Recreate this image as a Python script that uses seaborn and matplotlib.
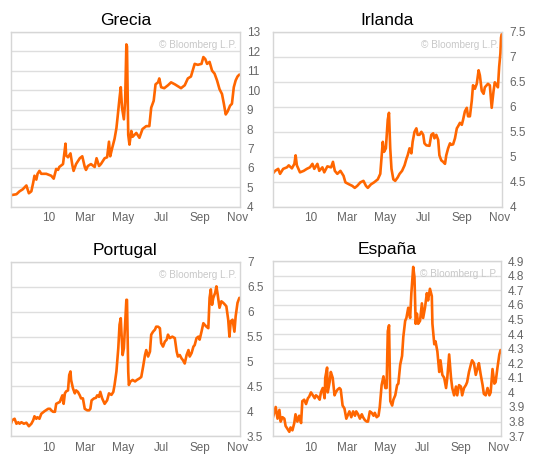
import pandas as pd
import matplotlib.pyplot as plt
import seaborn as sns

# 10-year bond yields, Nov 2009 - Nov 2010
greece_dates = ['2009-11-01', '2009-11-10', '2009-11-15', '2009-11-20', '2009-11-26', '2009-11-30',
                '2009-12-04', '2009-12-07', '2009-12-09', '2009-12-12', '2009-12-14', '2009-12-17',
                '2009-12-20', '2009-12-28', '2010-01-05', '2010-01-09', '2010-01-13', '2010-01-16',
                '2010-01-18', '2010-01-24', '2010-01-28', '2010-01-29', '2010-02-01', '2010-02-05',
                '2010-02-08', '2010-02-10', '2010-02-14', '2010-02-18', '2010-02-20', '2010-02-24',
                '2010-02-28', '2010-03-02', '2010-03-05', '2010-03-10', '2010-03-16', '2010-03-19',
                '2010-03-23', '2010-03-26', '2010-04-01', '2010-04-05', '2010-04-08', '2010-04-10',
                '2010-04-13', '2010-04-17', '2010-04-20', '2010-04-22', '2010-04-25', '2010-04-27',
                '2010-04-29', '2010-05-02', '2010-05-04', '2010-05-06', '2010-05-07', '2010-05-09',
                '2010-05-11', '2010-05-14', '2010-05-16', '2010-05-22', '2010-05-27', '2010-06-01',
                '2010-06-07', '2010-06-12', '2010-06-15', '2010-06-19', '2010-06-22', '2010-06-26',
                '2010-06-28', '2010-07-01', '2010-07-06', '2010-07-12', '2010-07-17', '2010-07-23',
                '2010-07-28', '2010-08-02', '2010-08-08', '2010-08-13', '2010-08-18', '2010-08-24',
                '2010-08-29', '2010-09-04', '2010-09-07', '2010-09-10', '2010-09-13', '2010-09-17',
                '2010-09-21', '2010-09-25', '2010-09-29', '2010-10-03', '2010-10-07', '2010-10-10',
                '2010-10-13', '2010-10-16', '2010-10-20', '2010-10-23', '2010-10-26', '2010-10-29',
                '2010-11-01', '2010-11-04']
greece_yield = [4.6, 4.65, 4.8, 4.9, 5.1, 4.7,
                4.8, 5.25, 5.6, 5.4, 5.7, 5.85,
                5.7, 5.7, 5.6, 5.45, 5.95, 5.9,
                6.05, 6.2, 7.25, 6.65, 6.55, 6.75,
                6.15, 5.85, 6.2, 6.4, 6.5, 6.6,
                6.05, 5.9, 6.1, 6.2, 6.05, 6.5,
                6.1, 6.2, 6.5, 6.55, 7.35, 6.6,
                7.0, 7.5, 8.05, 8.65, 9.6, 10.15,
                9.1, 8.5, 9.4, 12.35, 12.25, 7.7,
                7.2, 7.9, 7.6, 7.8, 7.55, 8.0,
                8.15, 8.15, 9.1, 9.45, 10.3, 10.4,
                10.6, 10.15, 10.1, 10.25, 10.4, 10.3,
                10.2, 10.1, 10.25, 10.6, 10.7, 11.35,
                11.3, 11.35, 11.7, 11.6, 11.35, 11.45,
                11.0, 10.85, 10.5, 10.05, 9.8, 9.3,
                8.75, 8.9, 9.2, 9.3, 10.15, 10.5,
                10.7, 10.8]

ireland_dates = ['2009-11-01', '2009-11-05', '2009-11-10', '2009-11-13', '2009-11-18', '2009-11-24',
                 '2009-11-27', '2009-12-02', '2009-12-06', '2009-12-08', '2009-12-10', '2009-12-15',
                 '2009-12-21', '2009-12-26', '2009-12-31', '2010-01-04', '2010-01-07', '2010-01-12',
                 '2010-01-15', '2010-01-20', '2010-01-23', '2010-01-28', '2010-02-03', '2010-02-06',
                 '2010-02-09', '2010-02-13', '2010-02-18', '2010-02-23', '2010-02-26', '2010-03-04',
                 '2010-03-09', '2010-03-13', '2010-03-17', '2010-03-22', '2010-03-27', '2010-03-31',
                 '2010-04-03', '2010-04-08', '2010-04-13', '2010-04-19', '2010-04-23', '2010-04-27',
                 '2010-04-29', '2010-05-02', '2010-05-05', '2010-05-07', '2010-05-09', '2010-05-11',
                 '2010-05-14', '2010-05-17', '2010-05-21', '2010-05-24', '2010-05-28', '2010-06-01',
                 '2010-06-04', '2010-06-06', '2010-06-09', '2010-06-12', '2010-06-14', '2010-06-17',
                 '2010-06-20', '2010-06-22', '2010-06-25', '2010-06-28', '2010-07-01', '2010-07-03',
                 '2010-07-06', '2010-07-11', '2010-07-14', '2010-07-17', '2010-07-19', '2010-07-22',
                 '2010-07-25', '2010-07-27', '2010-07-30', '2010-08-02', '2010-08-05', '2010-08-07',
                 '2010-08-10', '2010-08-13', '2010-08-15', '2010-08-18', '2010-08-21', '2010-08-24',
                 '2010-08-26', '2010-08-29', '2010-09-01', '2010-09-03', '2010-09-06', '2010-09-09',
                 '2010-09-11', '2010-09-14', '2010-09-17', '2010-09-19', '2010-09-22', '2010-09-25',
                 '2010-09-28', '2010-09-30', '2010-10-03', '2010-10-06', '2010-10-08', '2010-10-13',
                 '2010-10-16', '2010-10-19', '2010-10-22', '2010-10-24', '2010-10-27', '2010-10-29',
                 '2010-10-31', '2010-11-02', '2010-11-03', '2010-11-04']
ireland_yield = [4.66, 4.72, 4.76, 4.66, 4.76, 4.79,
                 4.83, 4.77, 4.86, 5.03, 4.83, 4.69,
                 4.72, 4.76, 4.79, 4.86, 4.76, 4.86,
                 4.72, 4.79, 4.69, 4.81, 4.79, 4.90,
                 4.72, 4.66, 4.72, 4.62, 4.49, 4.45,
                 4.42, 4.38, 4.42, 4.49, 4.52, 4.42,
                 4.38, 4.45, 4.49, 4.55, 4.66, 5.30,
                 5.10, 5.17, 5.74, 5.88, 5.17, 4.76,
                 4.55, 4.52, 4.59, 4.66, 4.72, 4.83,
                 4.96, 5.03, 5.17, 5.07, 5.30, 5.50,
                 5.57, 5.44, 5.44, 5.50, 5.44, 5.27,
                 5.23, 5.22, 5.44, 5.47, 5.37, 5.44,
                 5.34, 5.03, 4.93, 4.90, 4.86, 5.03,
                 5.17, 5.27, 5.24, 5.25, 5.37, 5.57,
                 5.61, 5.68, 5.64, 5.74, 5.91, 5.98,
                 5.81, 5.81, 6.12, 6.43, 6.36, 6.46,
                 6.73, 6.63, 6.32, 6.26, 6.39, 6.46,
                 6.43, 5.98, 6.32, 6.49, 6.43, 6.39,
                 6.80, 7.07, 7.38, 7.45]

portugal_dates = ['2009-11-01', '2009-11-03', '2009-11-07', '2009-11-10', '2009-11-13', '2009-11-15',
                  '2009-11-18', '2009-11-22', '2009-11-26', '2009-11-30', '2009-12-04', '2009-12-07',
                  '2009-12-09', '2009-12-12', '2009-12-14', '2009-12-17', '2009-12-20', '2009-12-25',
                  '2009-12-31', '2010-01-03', '2010-01-05', '2010-01-08', '2010-01-11', '2010-01-13',
                  '2010-01-16', '2010-01-19', '2010-01-21', '2010-01-23', '2010-01-25', '2010-01-27',
                  '2010-01-29', '2010-02-01', '2010-02-03', '2010-02-05', '2010-02-06', '2010-02-09',
                  '2010-02-12', '2010-02-14', '2010-02-17', '2010-02-20', '2010-02-22', '2010-02-25',
                  '2010-02-28', '2010-03-04', '2010-03-07', '2010-03-09', '2010-03-11', '2010-03-15',
                  '2010-03-18', '2010-03-20', '2010-03-23', '2010-03-25', '2010-03-28', '2010-04-01',
                  '2010-04-05', '2010-04-08', '2010-04-12', '2010-04-15', '2010-04-17', '2010-04-20',
                  '2010-04-23', '2010-04-25', '2010-04-27', '2010-04-28', '2010-04-30', '2010-05-02',
                  '2010-05-04', '2010-05-06', '2010-05-07', '2010-05-09', '2010-05-10', '2010-05-12',
                  '2010-05-16', '2010-05-20', '2010-05-23', '2010-05-27', '2010-05-30', '2010-06-02',
                  '2010-06-05', '2010-06-07', '2010-06-10', '2010-06-13', '2010-06-15', '2010-06-18',
                  '2010-06-21', '2010-06-23', '2010-06-26', '2010-06-29', '2010-07-01', '2010-07-04',
                  '2010-07-07', '2010-07-10', '2010-07-12', '2010-07-15', '2010-07-19', '2010-07-23',
                  '2010-07-26', '2010-07-28', '2010-07-31', '2010-08-03', '2010-08-05', '2010-08-08',
                  '2010-08-11', '2010-08-14', '2010-08-16', '2010-08-19', '2010-08-22', '2010-08-24',
                  '2010-08-27', '2010-08-30', '2010-09-01', '2010-09-04', '2010-09-07', '2010-09-09',
                  '2010-09-12', '2010-09-15', '2010-09-17', '2010-09-19', '2010-09-21', '2010-09-23',
                  '2010-09-26', '2010-09-28', '2010-09-30', '2010-10-03', '2010-10-06', '2010-10-09',
                  '2010-10-12', '2010-10-14', '2010-10-17', '2010-10-19', '2010-10-21', '2010-10-24',
                  '2010-10-27', '2010-10-29', '2010-11-01', '2010-11-04']
portugal_yield = [3.75, 3.82, 3.85, 3.75, 3.78, 3.75,
                  3.78, 3.75, 3.77, 3.70, 3.75, 3.82,
                  3.90, 3.85, 3.88, 3.85, 3.95, 4.00,
                  4.05, 4.05, 4.02, 3.99, 3.99, 4.15,
                  4.17, 4.19, 4.26, 4.32, 4.15, 4.36,
                  4.40, 4.42, 4.73, 4.80, 4.63, 4.46,
                  4.36, 4.42, 4.39, 4.32, 4.26, 4.26,
                  4.05, 4.02, 4.02, 4.05, 4.22, 4.26,
                  4.27, 4.32, 4.29, 4.39, 4.26, 4.15,
                  4.22, 4.36, 4.33, 4.39, 4.53, 4.80,
                  5.27, 5.74, 5.87, 5.60, 5.13, 5.27,
                  5.74, 6.24, 6.24, 4.80, 4.53, 4.59,
                  4.63, 4.60, 4.63, 4.66, 4.69, 4.90,
                  5.13, 5.23, 5.10, 5.20, 5.54, 5.60,
                  5.64, 5.70, 5.70, 5.67, 5.37, 5.30,
                  5.40, 5.44, 5.54, 5.47, 5.50, 5.47,
                  5.20, 5.10, 5.13, 5.06, 5.03, 4.96,
                  5.13, 5.23, 5.10, 5.17, 5.30, 5.33,
                  5.47, 5.50, 5.44, 5.60, 5.77, 5.74,
                  5.70, 5.67, 6.28, 6.45, 6.14, 6.28,
                  6.38, 6.51, 6.35, 6.08, 6.21, 6.18,
                  6.14, 6.11, 5.84, 5.50, 5.81, 5.84,
                  5.60, 5.91, 6.18, 6.28]

spain_dates = ['2009-11-01', '2009-11-03', '2009-11-06', '2009-11-09', '2009-11-12', '2009-11-14',
               '2009-11-17', '2009-11-20', '2009-11-22', '2009-11-25', '2009-11-28', '2009-11-30',
               '2009-12-03', '2009-12-06', '2009-12-08', '2009-12-11', '2009-12-14', '2009-12-17',
               '2009-12-19', '2009-12-22', '2009-12-25', '2009-12-28', '2009-12-30', '2010-01-02',
               '2010-01-05', '2010-01-08', '2010-01-10', '2010-01-13', '2010-01-16', '2010-01-18',
               '2010-01-21', '2010-01-24', '2010-01-25', '2010-01-28', '2010-01-29', '2010-02-01',
               '2010-02-03', '2010-02-06', '2010-02-09', '2010-02-11', '2010-02-14', '2010-02-17',
               '2010-02-19', '2010-02-22', '2010-02-25', '2010-02-28', '2010-03-03', '2010-03-05',
               '2010-03-08', '2010-03-11', '2010-03-14', '2010-03-16', '2010-03-19', '2010-03-22',
               '2010-03-25', '2010-03-27', '2010-03-30', '2010-04-02', '2010-04-04', '2010-04-07',
               '2010-04-10', '2010-04-13', '2010-04-15', '2010-04-18', '2010-04-21', '2010-04-23',
               '2010-04-26', '2010-04-29', '2010-05-02', '2010-05-04', '2010-05-06', '2010-05-08',
               '2010-05-10', '2010-05-13', '2010-05-15', '2010-05-18', '2010-05-21', '2010-05-23',
               '2010-05-26', '2010-05-29', '2010-05-31', '2010-06-03', '2010-06-05', '2010-06-08',
               '2010-06-11', '2010-06-13', '2010-06-16', '2010-06-18', '2010-06-20', '2010-06-22',
               '2010-06-24', '2010-06-27', '2010-06-30', '2010-07-02', '2010-07-05', '2010-07-08',
               '2010-07-10', '2010-07-13', '2010-07-16', '2010-07-17', '2010-07-20', '2010-07-22',
               '2010-07-25', '2010-07-28', '2010-07-30', '2010-08-02', '2010-08-05', '2010-08-08',
               '2010-08-10', '2010-08-13', '2010-08-16', '2010-08-18', '2010-08-21', '2010-08-24',
               '2010-08-26', '2010-08-29', '2010-09-01', '2010-09-03', '2010-09-06', '2010-09-09',
               '2010-09-11', '2010-09-14', '2010-09-17', '2010-09-19', '2010-09-22', '2010-09-25',
               '2010-09-28', '2010-09-30', '2010-10-03', '2010-10-06', '2010-10-08', '2010-10-11',
               '2010-10-14', '2010-10-17', '2010-10-19', '2010-10-22', '2010-10-25', '2010-10-27',
               '2010-10-30', '2010-11-02', '2010-11-04']
spain_yield = [3.82, 3.85, 3.90, 3.82, 3.88, 3.80,
               3.83, 3.82, 3.77, 3.75, 3.73, 3.76,
               3.74, 3.79, 3.85, 3.80, 3.84, 3.79,
               3.94, 3.95, 3.92, 3.96, 3.97, 4.00,
               3.98, 3.96, 3.98, 3.97, 3.95, 4.00,
               4.03, 3.96, 4.10, 4.17, 4.00, 4.07,
               4.14, 4.10, 3.98, 4.00, 4.02, 4.03,
               4.02, 3.91, 3.89, 3.82, 3.85, 3.87,
               3.83, 3.87, 3.84, 3.87, 3.85, 3.82,
               3.85, 3.83, 3.81, 3.80, 3.80, 3.87,
               3.86, 3.84, 3.86, 3.83, 3.84, 3.90,
               4.05, 4.11, 4.03, 4.03, 4.42, 4.46,
               3.94, 3.91, 3.95, 3.98, 4.05, 4.06,
               4.19, 4.25, 4.38, 4.49, 4.51, 4.58,
               4.51, 4.68, 4.86, 4.79, 4.47, 4.54,
               4.47, 4.49, 4.61, 4.51, 4.58, 4.68,
               4.63, 4.71, 4.66, 4.47, 4.33, 4.35,
               4.28, 4.14, 4.22, 4.12, 4.10, 4.03,
               4.10, 4.26, 4.10, 4.03, 3.98, 4.04,
               3.98, 4.05, 4.04, 3.98, 4.03, 4.05,
               4.07, 4.14, 4.19, 4.22, 4.20, 4.12,
               4.17, 4.20, 4.12, 4.05, 3.99, 3.98,
               4.03, 3.98, 4.00, 4.16, 4.06, 4.07,
               4.17, 4.26, 4.29]

greece_ticks = [4, 5, 6, 7, 8, 9, 10, 11, 12, 13]
ireland_ticks = [4, 4.5, 5, 5.5, 6, 6.5, 7, 7.5]
portugal_ticks = [3.5, 4, 4.5, 5, 5.5, 6, 6.5, 7]
spain_ticks = [3.7, 3.8, 3.9, 4.0, 4.1, 4.2, 4.3, 4.4, 4.5, 4.6, 4.7, 4.8, 4.9]

xtick_dates = ['2010-01-01', '2010-03-01', '2010-05-01', '2010-07-01', '2010-09-01', '2010-11-01']
xtick_labels = ['10', 'Mar', 'May', 'Jul', 'Sep', 'Nov']

panels = [
    ('Grecia', greece_dates, greece_yield, greece_ticks),
    ('Irlanda', ireland_dates, ireland_yield, ireland_ticks),
    ('Portugal', portugal_dates, portugal_yield, portugal_ticks),
    ('España', spain_dates, spain_yield, spain_ticks),
]

sns.set_style('white')
plt.rcParams['font.family'] = ['Liberation Sans', 'DejaVu Sans']

fig = plt.figure(figsize=(5.43, 4.67), dpi=100)
# axes boxes in figure fractions (left, bottom, width, height)
boxes = [
    [0.020, 0.557, 0.422, 0.375],
    [0.502, 0.557, 0.423, 0.375],
    [0.020, 0.066, 0.422, 0.373],
    [0.502, 0.066, 0.421, 0.375],
]

for box, (title, dates, vals, yticks) in zip(boxes, panels):
    ax = fig.add_axes(box)
    df = pd.DataFrame({'fecha': pd.to_datetime(dates), 'rendimiento': vals})
    sns.lineplot(data=df, x='fecha', y='rendimiento', ax=ax, color='#ff6600', linewidth=1.9)

    ax.set_xlim(pd.Timestamp('2009-11-01'), pd.Timestamp('2010-11-05'))
    ax.set_ylim(yticks[0], yticks[-1])
    ax.set_yticks(yticks)
    ax.set_yticklabels([f'{t:g}' for t in yticks])
    ax.yaxis.tick_right()
    ax.set_xticks(pd.to_datetime(xtick_dates))
    ax.set_xticklabels(xtick_labels)
    ax.set_xlabel('')
    ax.set_ylabel('')

    ax.grid(axis='y', color='#dedede', linewidth=1)
    ax.set_axisbelow(True)
    ax.tick_params(axis='y', length=0, pad=5, labelsize=8.5, labelcolor='#666666')
    ax.tick_params(axis='x', direction='in', length=2, color='#c8c8c8', pad=4,
                   labelsize=8.5, labelcolor='#666666')
    for s in ax.spines.values():
        s.set_color('#d6d6d6')
        s.set_linewidth(1)

    ax.set_title(title, fontsize=12.5, pad=5, color='black')
    ax.text(0.985, 0.925, '© Bloomberg L.P.', transform=ax.transAxes, ha='right', va='center',
            color='#c8c8c8', fontsize=7.2)

fig.savefig('out.png', dpi=100)
